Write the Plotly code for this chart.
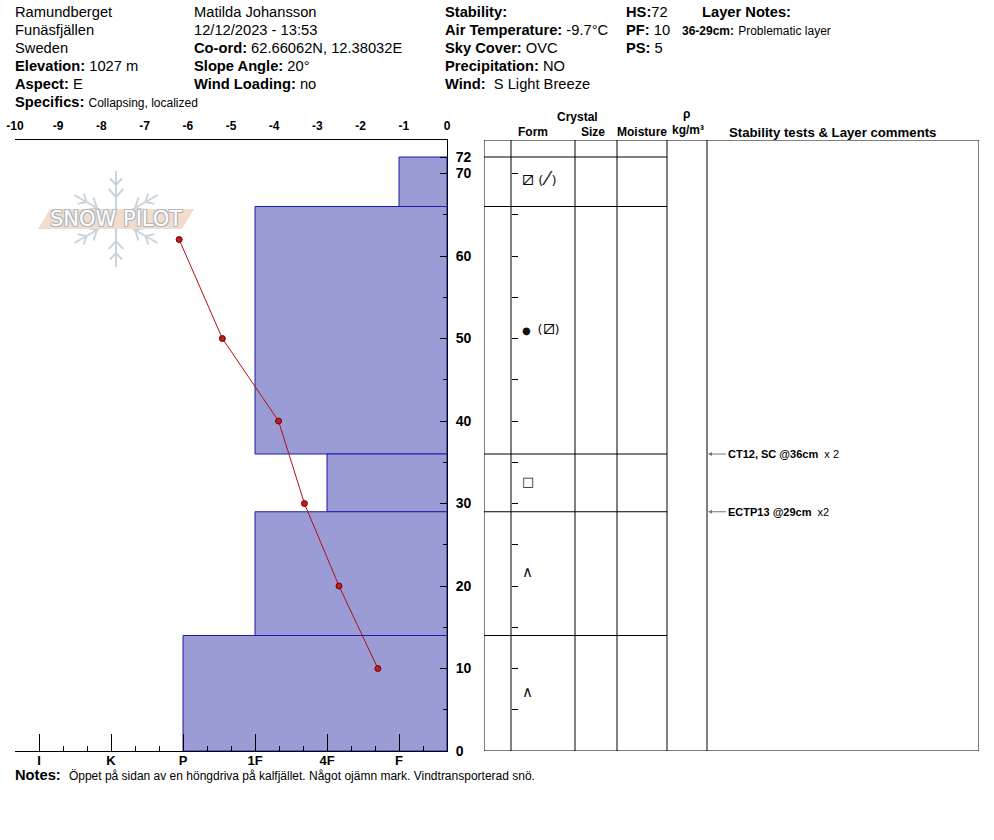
import math
import plotly.graph_objects as go

W, H = 994, 840
OX, OY = 0, 0
FONT = "Arial, Liberation Sans, sans-serif"


def px(x):
    return (x - OX) / W


def py(y):
    return 1 - (y - OY) / H


# ---------------- data ----------------
site = "Ramundberget"
region = "Funäsfjällen"
country = "Sweden"
elevation = "1027 m"
aspect = "E"
specifics = "Collapsing, localized"
observer = "Matilda Johansson"
obs_time = "12/12/2023 - 13:53"
coords = "62.66062N, 12.38032E"
slope_angle = "20°"
wind_loading = "no"
air_temp = "-9.7°C"
sky_cover = "OVC"
precipitation = "NO"
wind = "S Light Breeze"
hs = 72
pf = 10
ps = 5
layer_note_range = "36-29cm:"
layer_note_text = "Problematic layer"
notes = "Öppet på sidan av en höngdriva på kalfjället. Något ojämn mark. Vindtransporterad snö."

layer_top = [72, 66, 36, 29, 14]
layer_bottom = [66, 36, 29, 14, 0]
layer_hardness = ["F", "1F", "4F", "1F", "P"]
layer_forms = ["⧄ (⁄)", "● (⧄)", "□", "∧", "∧"]

temp_depth = [62, 50, 40, 30, 20, 10]
temp_value = [-6.2, -5.2, -3.9, -3.3, -2.5, -1.6]

hardness_labels = ["I", "K", "P", "1F", "4F", "F"]
temp_ticks = [-10, -9, -8, -7, -6, -5, -4, -3, -2, -1, 0]
depth_ticks = [0, 10, 20, 30, 40, 50, 60, 70, 72]

test_names = ["CT12, SC", "ECTP13"]
test_depths = [36, 29]
test_counts = ["x 2", "x2"]

# ---------------- geometry ----------------
hard_pos = {lab: 1 + 3 * i for i, lab in enumerate(hardness_labels)}  # on an 18-unit grid
HMAX = 18
Y_TOP = 74.06
ydom = [py(751), py(140)]

fig = go.Figure()

mids = [(t + b) / 2 for t, b in zip(layer_top, layer_bottom)]
thick = [t - b for t, b in zip(layer_top, layer_bottom)]
bases = [hard_pos[h] for h in layer_hardness]

fig.add_trace(go.Bar(
    orientation="h", y=mids, x=[HMAX - b for b in bases], base=bases, width=thick,
    marker=dict(color="rgb(155,155,214)", line=dict(color="#1c1ca8", width=1)),
    xaxis="x", yaxis="y", hoverinfo="skip", showlegend=False,
))

fig.add_trace(go.Scatter(
    x=temp_value, y=temp_depth, mode="lines+markers",
    line=dict(color="#b01010", width=1),
    marker=dict(color="#b52020", size=6, line=dict(color="#7a0000", width=1)),
    xaxis="x2", yaxis="y", hoverinfo="skip", showlegend=False,
))


def form_html(s):
    s = s.replace("⧄", "<span style='font-size:19px'>⧄</span>")
    s = s.replace("●", "<span style='font-size:10px'>●</span>\u2009")
    s = s.replace("⁄", "\u2009<span style='font-size:19px'>⁄</span>\u2009")
    return s


form_sizes = [13 if f != "∧" else 15 for f in layer_forms]
fig.add_trace(go.Scatter(
    x=[522] * len(mids), y=mids, mode="text", text=[form_html(f) for f in layer_forms],
    textposition="middle right",
    textfont=dict(family="DejaVu Sans", size=form_sizes, color="#111"),
    xaxis="x3", yaxis="y3", hoverinfo="skip", showlegend=False,
))

axis_common = dict(showgrid=False, zeroline=False, fixedrange=True, automargin=False)

fig.update_layout(
    width=W, height=H, margin=dict(l=0, r=0, t=0, b=0, autoexpand=False),
    paper_bgcolor="white", plot_bgcolor="rgba(0,0,0,0)",
    font=dict(family=FONT, color="black"),
    showlegend=False,
    xaxis=dict(domain=[px(15), px(447)], range=[0, HMAX], side="bottom", anchor="y",
               showline=True, linecolor="black", linewidth=1,
               tickvals=[hard_pos[h] for h in hardness_labels], ticktext=hardness_labels,
               ticks="inside", ticklen=17, tickcolor="black",
               minor=dict(dtick=1, tick0=0, ticks="inside", ticklen=5, tickcolor="black"),
               ticklabelstandoff=-3,
               tickfont=dict(size=13, family=FONT, weight="bold"), **axis_common),
    xaxis2=dict(overlaying="x", range=[-10, 0], side="top", anchor="y",
                showline=True, linecolor="black", linewidth=1,
                tickvals=temp_ticks, ticktext=[str(t) for t in temp_ticks],
                ticks="outside", ticklen=4, tickcolor="rgba(0,0,0,0)",
                ticklabeloverflow="allow",
                tickfont=dict(size=12, family=FONT, weight="bold"), **axis_common),
    xaxis4=dict(overlaying="x", range=[0, HMAX], side="top", anchor="y",
                showline=False, showticklabels=False,
                tickvals=[hard_pos[h] for h in hardness_labels],
                ticks="inside", ticklen=16, tickcolor="black",
                minor=dict(dtick=1, tick0=0, ticks="inside", ticklen=5, tickcolor="black"),
                **axis_common),
    yaxis=dict(domain=ydom, range=[0, Y_TOP], side="right", anchor="x",
               showline=True, linecolor="black", linewidth=1,
               tickvals=depth_ticks, ticktext=[str(t) for t in depth_ticks],
               ticks="inside", ticklen=7, tickcolor="black",
               minor=dict(dtick=5, tick0=0, ticks="inside", ticklen=4, tickcolor="black"),
               ticklabelstandoff=5,
               tickfont=dict(size=14, family=FONT, weight="bold"), **axis_common),
    yaxis2=dict(overlaying="y", range=[0, Y_TOP], side="left", anchor="x",
                showline=True, linecolor="black", linewidth=1, showticklabels=False,
                tickvals=[0, 10, 20, 30, 40, 50, 60, 70],
                ticks="inside", ticklen=8, tickcolor="black",
                minor=dict(dtick=5, tick0=0, ticks="inside", ticklen=5, tickcolor="black"),
                **axis_common),
    xaxis3=dict(domain=[px(484), px(979)], range=[484, 979], anchor="y3", visible=False,
                **axis_common),
    yaxis3=dict(domain=ydom, range=[0, Y_TOP], anchor="free", position=px(511), side="left",
                showline=False, showticklabels=False, dtick=5, tick0=0,
                ticks="inside", ticklen=6, tickcolor="black", **axis_common),
)

shapes = []
line_k = dict(color="black", width=1)
# table frame and columns
shapes.append(dict(type="rect", xref="x3", yref="y3", x0=484, x1=979, y0=0, y1=Y_TOP, line=line_k))
for cx in [511, 575, 617, 667, 707]:
    shapes.append(dict(type="line", xref="x3", yref="y3", x0=cx, x1=cx, y0=0, y1=Y_TOP, line=line_k))
for yb in layer_top:
    shapes.append(dict(type="line", xref="x3", yref="y3", x0=484, x1=667, y0=yb, y1=yb, line=line_k))

# Snow Pilot logo (decoration)
cx0, cy0, L = 116, 219, 48
flake = dict(color="#c9d3db", width=2)
for a in [90, 30, 150, 210, 270, 330]:
    r = math.radians(a)
    dx, dy = math.cos(r), -math.sin(r)
    shapes.append(dict(type="line", xref="paper", yref="paper",
                       x0=px(cx0 + 8 * dx), y0=py(cy0 + 8 * dy),
                       x1=px(cx0 + L * dx), y1=py(cy0 + L * dy), line=flake))
    for d, bl in [(22, 11), (34, 9)]:
        bx, by = cx0 + d * dx, cy0 + d * dy
        for s in (-1, 1):
            rb = r + s * math.radians(42)
            shapes.append(dict(type="line", xref="paper", yref="paper",
                               x0=px(bx), y0=py(by),
                               x1=px(bx + bl * math.cos(rb)), y1=py(by - bl * math.sin(rb)),
                               line=flake))
band = [(38, 229), (50, 209), (194, 209), (182, 229)]
path = "M " + " L ".join(f"{px(x)} {py(y)}" for x, y in band) + " Z"
shapes.append(dict(type="path", xref="paper", yref="paper", path=path,
                   fillcolor="#f2dccb", line=dict(width=0)))
fig.update_layout(shapes=shapes)

ann = []
HEAD = 14.7


def txt(x, y, s, size=HEAD, anchor="left", **kw):
    ann.append(dict(x=px(x), y=py(y), xref="paper", yref="paper", text=s, showarrow=False,
                    xanchor=anchor, yanchor="middle", font=dict(size=size, family=FONT, color="black"),
                    **kw))


def small(s, size=12):
    return f"<span style='font-size:{size}px'>{s}</span>"


txt(116, 219, "SNOW PILOT", size=21, anchor="center")
ann[-1]["font"] = dict(size=21, family="DejaVu Sans", color="white",
                       shadow="-1px -1px 0 #aeb6be, 1px -1px 0 #aeb6be, -1px 1px 0 #aeb6be, 1px 1px 0 #aeb6be")

rows = [12, 30, 48, 66, 84, 102]
col1 = [site, region, country, f"<b>Elevation:</b> {elevation}", f"<b>Aspect:</b> {aspect}",
        f"<b>Specifics:</b> {small(specifics)}"]
col2 = [observer, obs_time, f"<b>Co-ord:</b> {coords}", f"<b>Slope Angle:</b> {slope_angle}",
        f"<b>Wind Loading:</b> {wind_loading}"]
col3 = ["<b>Stability:</b>", f"<b>Air Temperature:</b> {air_temp}", f"<b>Sky Cover:</b> {sky_cover}",
        f"<b>Precipitation:</b> {precipitation}", f"<b>Wind:</b> \u00a0{wind}"]
col4 = [f"<b>HS:</b>{hs}", f"<b>PF:</b> {pf}", f"<b>PS:</b> {ps}"]
for s, y in zip(col1, rows):
    txt(13, y, s)
for s, y in zip(col2, rows):
    txt(192, y, s)
for s, y in zip(col3, rows):
    txt(443, y, s)
for s, y in zip(col4, rows):
    txt(624, y, s)
txt(700, 12, "<b>Layer Notes:</b>")
txt(680, 30, f"<b>{small(layer_note_range, 12)}</b> {small(layer_note_text, 12)}")

# table header
for x, y, s, fs in [(577, 117, "Crystal", 12), (533, 132, "Form", 12), (593, 132, "Size", 12),
                    (642, 132, "Moisture", 12), (686, 114, "ρ", 12), (688, 130, "kg/m³", 12),
                    (832, 132, "Stability tests & Layer comments", 13.2)]:
    txt(x, y, f"<b>{s}</b>", size=fs, anchor="center")

# notes
txt(13, 775, f"<b>Notes:</b> \u00a0{small(notes, 12)}")

fig.update_layout(annotations=ann)

for name, d, c in zip(test_names, test_depths, test_counts):
    fig.add_annotation(x=708, y=d, xref="x3", yref="y3", ax=18, ay=0,
                       text=f"<b>{name} @{d}cm</b> \u00a0{c}", showarrow=True,
                       arrowhead=2, arrowsize=0.8, arrowwidth=1, arrowcolor="#777",
                       standoff=0, xanchor="left", yanchor="middle",
                       font=dict(size=11, family=FONT, color="black"))

fig.write_html("out.html", config={"displayModeBar": False, "staticPlot": True},
               post_script="document.body.style.margin='0px';document.body.style.overflow='hidden';")
